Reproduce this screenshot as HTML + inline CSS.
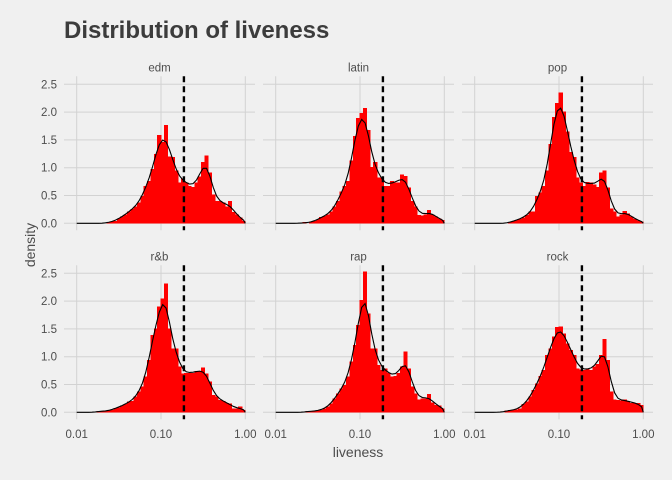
<!DOCTYPE html>
<html><head><meta charset="utf-8">
<style>
html,body{margin:0;padding:0;background:#f0f0f0;}
svg{display:block;font-family:"Liberation Sans",sans-serif;}
</style></head>
<body>
<svg id="chart" width="672" height="480" viewBox="0 0 672 480">
<rect width="672" height="480" fill="#f0f0f0"/>
<text x="64" y="38" font-size="24" font-weight="bold" fill="#3c3c3c">Distribution of liveness</text>
<text x="358" y="457" font-size="14" fill="#4d4d4d" text-anchor="middle">liveness</text>
<text transform="translate(35,245) rotate(-90)" font-size="14" fill="#4d4d4d" text-anchor="middle">density</text>
<g id="panels"></g>
</svg>
<script>
const genres = ["edm","latin","pop","r&b","rap","rock"];
const binStartLog = -2;
const binWidthLog = 0.04;
const medianLiveness = 0.187;
const yTicks = [0, 0.5, 1.0, 1.5, 2.0, 2.5];
const yTickLabels = ["0.0","0.5","1.0","1.5","2.0","2.5"];
const xTicks = [0.01, 0.1, 1];
const xTickLabels = ["0.01","0.10","1.00"];
const edmBins = [0,0,0,0,0,0,0,0,0,0.02,0.03,0.04,0.09,0.12,0.16,0.21,0.26,0.30,0.37,0.49,0.67,0.76,0.98,1.25,1.59,1.46,1.77,1.20,1.19,0.95,0.73,0.81,0.73,0.67,0.65,0.73,0.84,1.10,1.22,0.91,0.52,0.40,0.40,0.37,0.30,0.40,0.20,0.16,0.10,0.04];
const latinBins = [0,0,0,0,0,0,0,0,0.02,0,0.02,0.04,0.07,0.11,0.13,0.16,0.21,0.30,0.40,0.57,0.67,0.76,1.13,1.57,1.89,1.98,2.07,1.68,1.01,1.10,0.82,0.82,0.67,0.67,0.76,0.73,0.73,0.88,0.85,0.64,0.40,0.30,0.15,0.14,0.16,0.24,0.16,0.12,0.09,0.06];
const popBins = [0,0,0,0,0,0,0,0,0,0,0.02,0.04,0.06,0.08,0.10,0.15,0.21,0.21,0.49,0.55,0.67,0.95,1.43,1.91,2.16,2.35,2.01,1.65,1.28,1.19,0.82,0.73,0.67,0.74,0.73,0.70,0.65,0.91,0.95,0.64,0.27,0.21,0.12,0.16,0.22,0.18,0.12,0.08,0.05,0.03];
const rnbBins = [0,0,0,0,0,0,0.02,0.02,0.02,0.03,0.04,0.08,0.09,0.12,0.15,0.19,0.20,0.28,0.37,0.46,0.64,0.94,1.39,1.51,1.90,2.05,2.32,1.51,1.15,1.15,0.82,0.70,0.71,0.71,0.71,0.74,0.73,0.81,0.70,0.55,0.31,0.28,0.22,0.20,0.17,0.16,0.07,0.07,0.10,0.04];
const rapBins = [0,0,0,0,0,0,0,0,0,0.02,0.02,0.02,0.03,0.04,0.07,0.10,0.16,0.25,0.34,0.43,0.49,0.64,0.91,1.21,1.57,2.02,2.53,1.78,1.15,1.15,0.85,0.76,0.79,0.71,0.64,0.65,0.71,0.82,1.09,0.79,0.46,0.34,0.23,0.25,0.25,0.33,0.18,0.13,0.12,0.07];
const rockBins = [0,0,0,0,0,0,0,0,0,0.03,0.04,0.04,0.05,0.07,0.15,0.19,0.28,0.40,0.52,0.65,0.76,1.03,1.15,1.36,1.53,1.54,1.42,1.24,1.12,1.03,0.79,0.77,0.76,0.79,0.76,0.82,0.87,1.03,1.32,0.94,0.37,0.23,0.22,0.21,0.23,0.20,0.17,0.17,0.17,0.13];
const allBins = [edmBins, latinBins, popBins, rnbBins, rapBins, rockBins];

const NS = "http://www.w3.org/2000/svg";
const root = document.getElementById("panels");
const panelLeft = [64, 263, 462];
const panelW = 191;
const rowBase = [223.3, 412.3];
const pxPerUnit = 55.6;
const pxPerDecade = 84.3;
function mk(tag, attrs, parent){const e=document.createElementNS(NS,tag);for(const k in attrs)e.setAttribute(k,attrs[k]);parent.appendChild(e);return e;}
function smooth(b){const out=[];const s=1.3;for(let i=0;i<b.length;i++){let sum=0,w=0;for(let j=-5;j<=5;j++){const k=i+j;const wt=Math.exp(-j*j/(2*s*s));w+=wt;if(k>=0&&k<b.length)sum+=b[k]*wt;}out.push(sum/w);}return out;}

genres.forEach((g, gi) => {
  const col = gi % 3, row = Math.floor(gi / 3);
  const L = panelLeft[col], base = rowBase[row];
  const xs = v => L + 12.7 + (Math.log10(v) + 2) * pxPerDecade;
  const xl = lg => L + 12.7 + (lg + 2) * pxPerDecade;
  const ys = v => base - v * pxPerUnit;
  const top = ys(2.5) - 8, bot = base + 7;
  const grp = mk("g", {}, root);
  
  
  yTicks.forEach(t => {
    const ln = mk("line", {x1:L, x2:L+panelW, y1:ys(t), y2:ys(t), stroke:"#d2d2d2", "stroke-width":1}, grp);
    
    
  });
  xTicks.forEach(t => {
    const ln = mk("line", {x1:xs(t), x2:xs(t), y1:top, y2:bot, stroke:"#d2d2d2", "stroke-width":1}, grp);
    
    
  });
  const strip = mk("text", {x:L+panelW/2, y:top-5, "font-size":11.5, fill:"#4d4d4d", "text-anchor":"middle"}, grp);
  strip.textContent = g;
  
  
  if (col === 0) yTicks.forEach((t, i) => {
    const tx = mk("text", {x:57, y:ys(t)+4, "font-size":11.5, fill:"#4d4d4d", "text-anchor":"end"}, grp);
    tx.textContent = yTickLabels[i];
    
    
  });
  if (row === 1) xTicks.forEach((t, i) => {
    const tx = mk("text", {x:xs(t), y:438, "font-size":11.5, fill:"#4d4d4d", "text-anchor":"middle"}, grp);
    tx.textContent = xTickLabels[i];
    
    
  });
  const bins = allBins[gi];
  bins.forEach((v, i) => {
    if (v <= 0) return;
    const x0 = xl(binStartLog + i*binWidthLog), x1 = xl(binStartLog + (i+1)*binWidthLog);
    const r = mk("rect", {x:x0-0.4, y:ys(v), width:x1-x0+0.8, height:v*pxPerUnit, fill:"#ff0000", "shape-rendering":"crispEdges"}, grp);
    
    
  });
  const sm = smooth(bins);
  let d = "M" + xl(-2) + "," + base;
  sm.forEach((v, i) => { d += " L" + xl(binStartLog + (i+0.5)*binWidthLog).toFixed(2) + "," + ys(v).toFixed(2); });
  d += " L" + xl(0) + "," + base;
  const p = mk("path", {d:d, fill:"none", stroke:"#000", "stroke-width":1.1}, grp);
  
  
  const m = mk("line", {x1:xs(medianLiveness), x2:xs(medianLiveness), y1:top, y2:bot, stroke:"#000", "stroke-width":2.4, "stroke-dasharray":"6,4"}, grp);
  
  
});
</script>
</body></html>
